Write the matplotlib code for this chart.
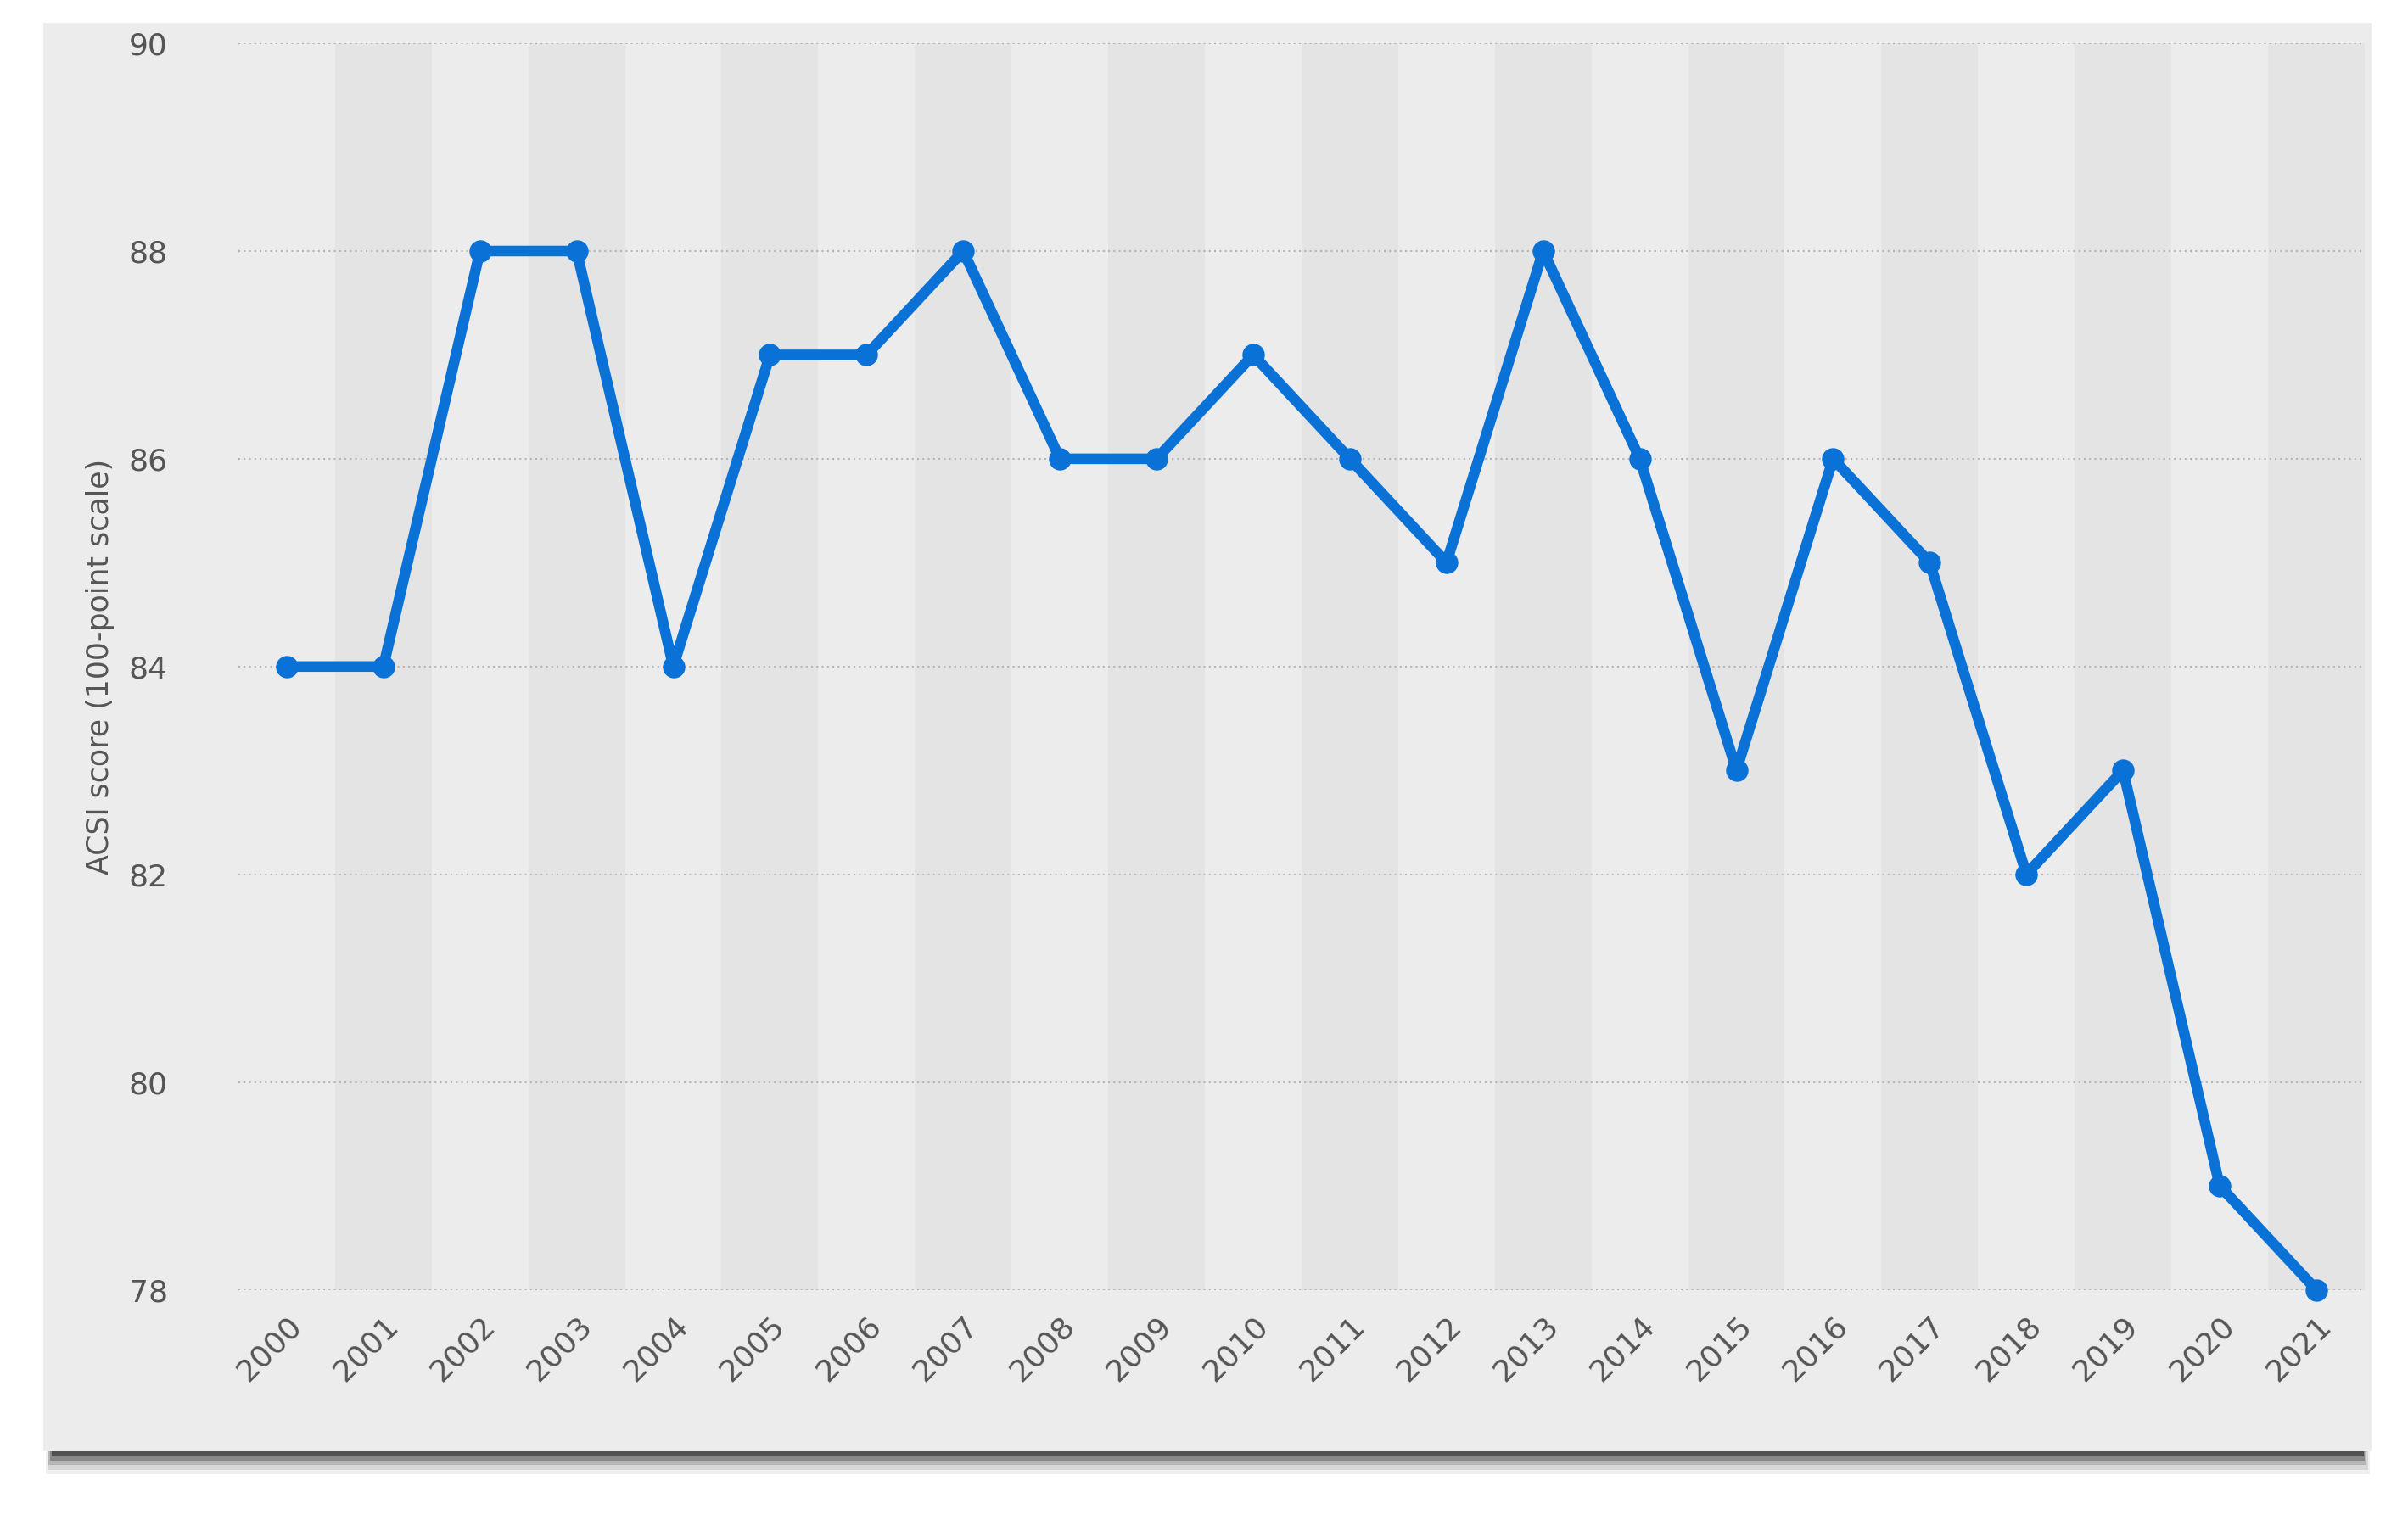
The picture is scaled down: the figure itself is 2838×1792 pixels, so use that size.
import matplotlib
matplotlib.use("Agg")
import matplotlib.pyplot as plt
from matplotlib.patches import Rectangle

years = [str(y) for y in range(2000, 2022)]
scores = [84, 84, 88, 88, 84, 87, 87, 88, 86, 86, 87, 86, 85, 88, 86, 83, 86, 85, 82, 83, 79, 78]
yticks = [78, 80, 82, 84, 86, 88, 90]

fig = plt.figure(figsize=(28.38, 17.92), dpi=100)
fig.patch.set_facecolor("white")
# shadow below the panel
for i, a in enumerate([0.06, 0.1, 0.15, 0.25, 0.4]):
    d = (5 - i) * 0.003
    fig.patches.append(Rectangle((0.018 + 0.004 - d*0.2, 0.045 - d), 0.967 - 0.008 + d*0.4, 0.5,
                                 transform=fig.transFigure, facecolor="black", alpha=a,
                                 edgecolor="none", zorder=-3))
fig.patches.append(Rectangle((0.018, 0.045), 0.967, 0.94, transform=fig.transFigure,
                             facecolor="#ececec", edgecolor="none", zorder=-2))

ax = fig.add_axes([0.099, 0.1515, 0.883, 0.82])
ax.set_zorder(2)
ax.set_facecolor("none")
x = list(range(len(years)))
for i in x:
    if i % 2 == 1:
        ax.axvspan(i - 0.5, i + 0.5, color="#e4e4e4", zorder=0, lw=0)
for t in yticks:
    ax.axhline(t, color="#b5b5b5", ls=(0, (1, 2)), lw=1.5, zorder=1)
ax.plot(x, scores, color="#0a72d6", lw=9, marker="o", ms=18, zorder=3, clip_on=False)
ax.set_xlim(-0.5, 21.5)
ax.set_ylim(78, 90)
ax.set_yticks(yticks)
ax.set_xticks(x)
ax.set_xticklabels(years, rotation=45, ha="right", rotation_mode="anchor")
ax.tick_params(length=0, labelsize=26, labelcolor="#555555", pad=18)
ax.tick_params(axis="y", pad=60)
for s in ax.spines.values():
    s.set_visible(False)
ax.set_ylabel("ACSI score (100-point scale)", fontsize=25, color="#555555", labelpad=12)
fig.savefig("out.png", dpi=100)
